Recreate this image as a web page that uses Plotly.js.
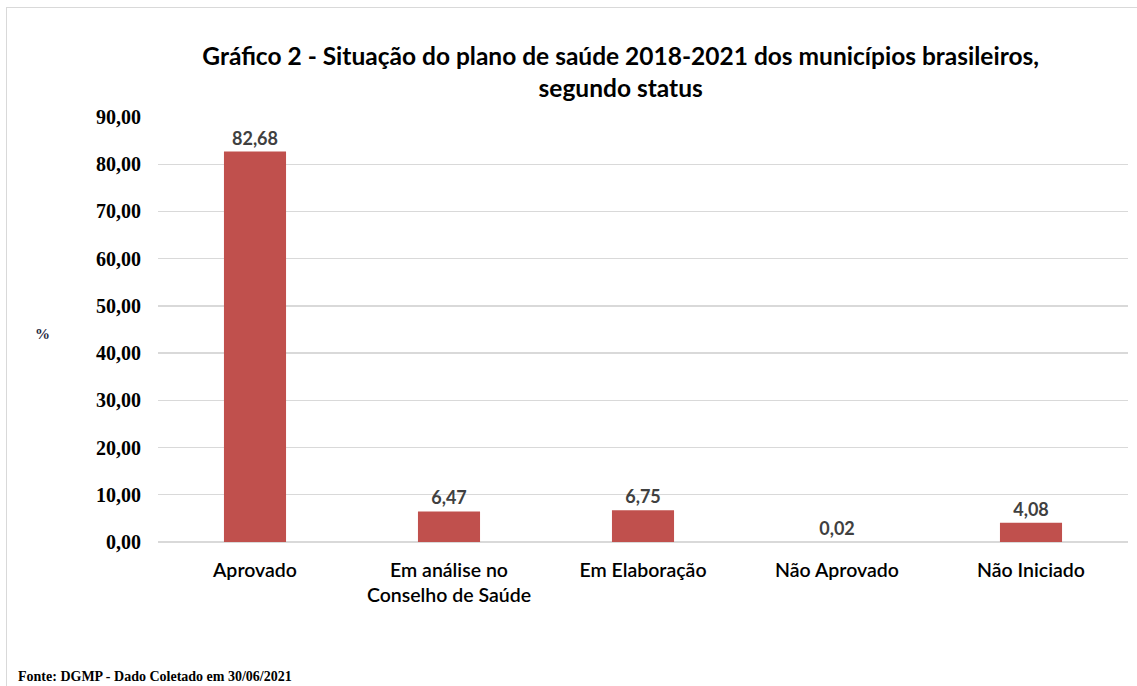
<!DOCTYPE html>
<html>
<head>
<meta charset="utf-8">
<script src="https://cdn.plot.ly/plotly-3.0.1.min.js"></script>
<style>
  html, body { margin: 0; padding: 0; background: #fff; }
  #chart { width: 1137px; height: 686px; }
  #frame { position: absolute; left: 6px; top: 7px; width: 1140px; height: 700px;
           border-left: 1px solid #d9d9d9; border-top: 1px solid #d9d9d9;
           pointer-events: none; }
</style>
</head>
<body>
<div id="chart"></div>
<div id="frame"></div>
<script>
const categories = ["Aprovado", "Em análise no<br>Conselho de Saúde", "Em Elaboração", "Não Aprovado", "Não Iniciado"];
const values = [82.68, 6.47, 6.75, 0.02, 4.08];
const yTicks = [0, 10, 20, 30, 40, 50, 60, 70, 80, 90];

const trace = {
  type: 'bar',
  x: categories,
  y: values,
  marker: { color: '#c0504d' },
  texttemplate: '%{y:.2f}',
  textposition: 'outside',
  cliponaxis: false,
  textfont: { family: 'Lato, sans-serif', size: 18, color: '#404040', weight: 'bold' },
  hoverinfo: 'none'
};

const layout = {
  width: 1137, height: 686,
  separators: ',.',
  margin: { l: 158, r: 9, t: 117, b: 144 },
  paper_bgcolor: '#ffffff',
  plot_bgcolor: '#ffffff',
  bargap: 0.68,
  showlegend: false,
  title: {
    text: '<b>Gráfico 2 - Situação do plano de saúde 2018-2021 dos municípios brasileiros,<br>segundo status</b>',
    font: { family: 'Lato, sans-serif', size: 24.5, color: '#000000' },
    x: 0.477, xanchor: 'center', xref: 'paper',
    y: 0.905, yanchor: 'middle'
  },
  xaxis: {
    type: 'category',
    tickfont: { family: 'Lato, sans-serif', size: 19.5, color: '#000000', weight: 600 },
    showline: false, showgrid: false, zeroline: false,
    ticks: '', ticklabelstandoff: 14
  },
  yaxis: {
    range: [0, 90],
    tickvals: yTicks,
    tickformat: '.2f',
    tickfont: { family: '"Liberation Serif", serif', size: 20, color: '#000000', weight: 'bold' },
    showgrid: true, gridcolor: '#d9d9d9', gridwidth: 1.3,
    zeroline: true, zerolinecolor: '#d9d9d9', zerolinewidth: 1.3,
    showline: false, ticks: '', ticklabelstandoff: 16
  },
  annotations: [
    { text: '<b>%</b>', xref: 'paper', yref: 'paper', x: -0.119, y: 0.49,
      xanchor: 'center', yanchor: 'middle', showarrow: false,
      font: { family: '"Liberation Serif", serif', size: 15, color: '#1f2a44' } },
    { text: '<b>Fonte: DGMP - Dado Coletado em 30/06/2021</b>', xref: 'paper', yref: 'paper',
      x: -0.146, y: -0.316, xanchor: 'left', yanchor: 'middle', showarrow: false,
      font: { family: '"Liberation Serif", serif', size: 14, color: '#000000' } }
  ]
};

Plotly.newPlot('chart', [trace], layout, { staticPlot: true, displayModeBar: false });
</script>
</body>
</html>
